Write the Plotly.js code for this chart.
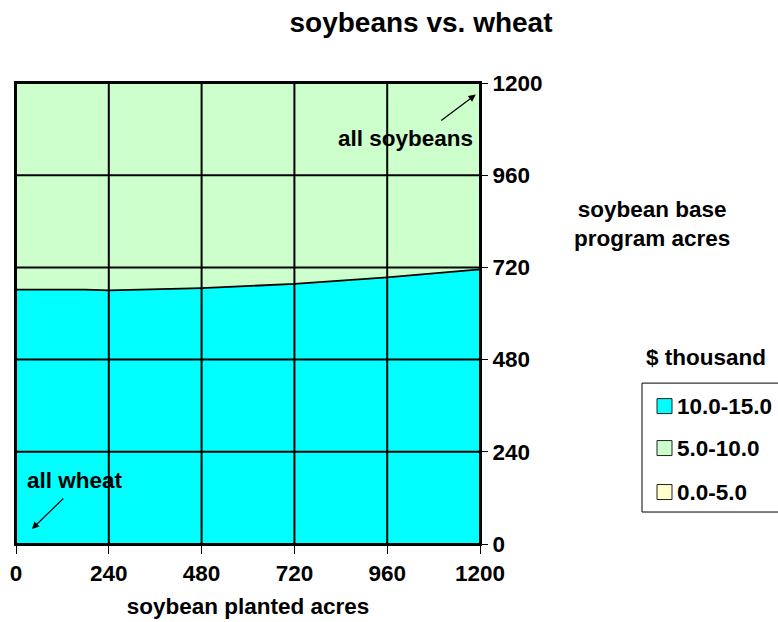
<!DOCTYPE html>
<html><head><meta charset="utf-8">
<script src="https://cdn.plot.ly/plotly-3.0.1.min.js"></script>
<style>body{margin:0;padding:0;background:#fff}#chart{width:778px;height:622px}</style>
</head><body><div id="chart"></div>
<script>
// data
var plantedAcres = [0, 180, 240, 480, 720, 960, 1200];
var boundaryAcres = [662, 662, 660, 666, 677, 694, 715];
var topAcres = [1200, 1200, 1200, 1200, 1200, 1200, 1200];
var tickVals = [0, 240, 480, 720, 960, 1200];
var tickText = ['0', '240', '480', '720', '960', '1200'];
var legendLabels = ['10.0-15.0', '5.0-10.0', '0.0-5.0'];
var legendColors = ['#00ffff', '#ccffcc', '#ffffcc'];

var L = 16, R = 480, T = 82.7, B = 544;
function px(p){ return (p - L) / (R - L); }
function py(p){ return (B - p) / (B - T); }
var fnt = {family: 'Liberation Sans, Arial, sans-serif', size: 22.5, color: '#000'};
function bold(s){ return '<b>' + s + '</b>'; }

var traces = [
  {x: plantedAcres, y: boundaryAcres, type: 'scatter', mode: 'lines', fill: 'tozeroy',
   fillcolor: legendColors[0], line: {color: '#000', width: 1.8}, hoverinfo: 'skip', showlegend: false},
  {x: plantedAcres, y: topAcres, type: 'scatter', mode: 'lines', fill: 'tonexty',
   fillcolor: legendColors[1], line: {color: 'rgba(0,0,0,0)', width: 0}, hoverinfo: 'skip', showlegend: false}
];

var shapes = [];
var annotations = [];
// grid lines drawn above the filled areas
tickVals.forEach(function(v){
  shapes.push({type: 'line', xref: 'x', yref: 'paper', x0: v, x1: v, y0: 0, y1: 1, layer: 'above',
    line: {color: '#000', width: 2}});
  shapes.push({type: 'line', xref: 'paper', yref: 'y', x0: 0, x1: 1, y0: v, y1: v, layer: 'above',
    line: {color: '#000', width: 2}});
});
// legend box
shapes.push({type: 'rect', xref: 'paper', yref: 'paper', x0: px(642), x1: px(800), y0: py(512), y1: py(383),
  line: {color: '#000', width: 1}, fillcolor: 'rgba(0,0,0,0)'});
var itemY = [406, 448, 492];
for (var i = 0; i < legendLabels.length; i++) {
  shapes.push({type: 'rect', xref: 'paper', yref: 'paper', x0: px(657), x1: px(672),
    y0: py(itemY[i] + 7.5), y1: py(itemY[i] - 7.5), line: {color: '#222', width: 1}, fillcolor: legendColors[i]});
  annotations.push({xref: 'paper', yref: 'paper', x: px(675), y: py(itemY[i]), xanchor: 'left', yanchor: 'middle',
    text: bold(legendLabels[i]), showarrow: false, font: fnt});
}
annotations.push({xref: 'paper', yref: 'paper', x: px(706), y: py(357), xanchor: 'center', yanchor: 'middle',
  text: bold('$ thousand'), showarrow: false, font: fnt});
annotations.push({xref: 'paper', yref: 'paper', x: px(652), y: py(224), xanchor: 'center', yanchor: 'middle',
  text: bold('soybean base<br>program acres'), showarrow: false, font: fnt});
annotations.push({xref: 'paper', yref: 'paper', x: px(405), y: py(138), xanchor: 'center', yanchor: 'middle',
  text: bold('all soybeans'), showarrow: false, font: fnt});
annotations.push({xref: 'paper', yref: 'paper', x: px(75), y: py(480), xanchor: 'center', yanchor: 'middle',
  text: bold('all wheat'), showarrow: false, font: fnt});
// arrows
annotations.push({x: 1189, y: 1170, xref: 'x', yref: 'y', ax: -36, ay: 27, text: '', showarrow: true,
  arrowhead: 2, arrowsize: 1.2, arrowwidth: 1.2, arrowcolor: '#000'});
annotations.push({x: 41, y: 39, xref: 'x', yref: 'y', ax: 33, ay: -32, text: '', showarrow: true,
  arrowhead: 2, arrowsize: 1.2, arrowwidth: 1.2, arrowcolor: '#000'});

var layout = {
  width: 778, height: 622,
  margin: {l: L, r: 778 - R, t: T, b: 622 - B, pad: 0},
  paper_bgcolor: '#fff', plot_bgcolor: '#fff',
  showlegend: false,
  title: {text: bold('soybeans vs. wheat'), font: {family: fnt.family, size: 28, color: '#000'},
    x: 421 / 778, xanchor: 'center', y: 1 - 22 / 622, yanchor: 'middle'},
  xaxis: {range: [0, 1200], tickvals: tickVals, ticktext: tickText.map(bold), ticks: 'outside', ticklen: 8,
    tickcolor: '#000', tickwidth: 1, showgrid: false, showline: true,
    linecolor: '#000', linewidth: 2, mirror: true, zeroline: false, layer: 'above traces',
    tickfont: fnt, fixedrange: true,
    title: {text: bold('soybean planted acres'), font: fnt, standoff: 13}},
  yaxis: {range: [0, 1200], side: 'right', tickvals: tickVals, ticktext: tickText.map(bold), ticks: 'outside',
    ticklen: 6, tickcolor: '#000', tickwidth: 1, showgrid: false,
    showline: true, linecolor: '#000', linewidth: 2, mirror: true, zeroline: false, layer: 'above traces',
    tickfont: fnt, fixedrange: true},
  shapes: shapes,
  annotations: annotations
};
Plotly.newPlot('chart', traces, layout, {displayModeBar: false, staticPlot: true});
</script></body></html>
